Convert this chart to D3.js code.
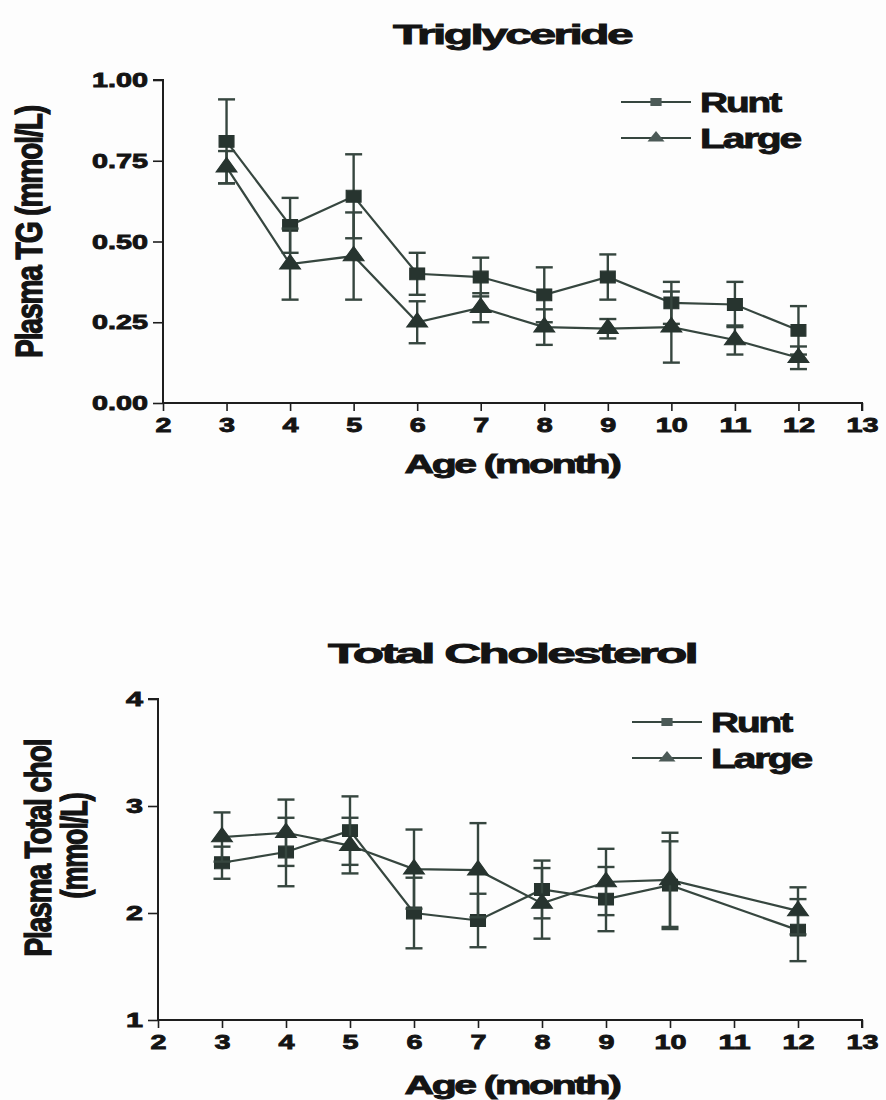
<!DOCTYPE html>
<html>
<head>
<meta charset="utf-8">
<script src="https://cdn.jsdelivr.net/npm/d3@7"></script>
<style>
  html, body { margin: 0; padding: 0; background: #fdfdfd; }
  svg { display: block; }
  text { font-family: "Liberation Sans", Arial, sans-serif; font-weight: bold; fill: #141414; stroke: #141414; stroke-width: 0.9; }
</style>
</head>
<body>
<svg id="chart" width="886" height="1100"></svg>
<script>
// Triglyceride panel: months, means and SEM per group
const tgMonths = [3, 4, 5, 6, 7, 8, 9, 10, 11, 12];
const tgRunt = [0.81, 0.55, 0.64, 0.40, 0.39, 0.335, 0.39, 0.31, 0.305, 0.225];
const tgRuntErr = [0.13, 0.085, 0.13, 0.065, 0.06, 0.085, 0.07, 0.065, 0.07, 0.075];
const tgLarge = [0.73, 0.43, 0.455, 0.25, 0.295, 0.235, 0.23, 0.235, 0.195, 0.14];
const tgLargeErr = [0.05, 0.11, 0.135, 0.065, 0.045, 0.055, 0.03, 0.11, 0.045, 0.035];
const tgTicks = [0, 0.25, 0.5, 0.75, 1.0];

// Total cholesterol panel (no sample at month 11)
const tcMonths = [3, 4, 5, 6, 7, 8, 9, 10, 12];
const tcRunt = [2.47, 2.57, 2.77, 2.00, 1.93, 2.22, 2.13, 2.26, 1.84];
const tcRuntErr = [0.15, 0.32, 0.32, 0.33, 0.25, 0.27, 0.30, 0.41, 0.29];
const tcLarge = [2.71, 2.75, 2.63, 2.41, 2.40, 2.09, 2.29, 2.31, 2.02];
const tcLargeErr = [0.23, 0.31, 0.26, 0.37, 0.44, 0.33, 0.31, 0.44, 0.22];
const tcTicks = [1, 2, 3, 4];

const xTicks = [2, 3, 4, 5, 6, 7, 8, 9, 10, 11, 12, 13];
const groupNames = ["Runt", "Large"];

const ink = "#36463f";
const markInk = "#27342f";
const svg = d3.select("#chart");

// Wide, heavy lettering: glyphs are packed tight, then stretched to a given run length
function wideText(g, o) {
  const t = g.append("text")
    .attr("text-anchor", o.anchor || "middle")
    .attr("font-size", o.size)
    .attr("letter-spacing", o.spacing == null ? -1.5 : o.spacing)
    .attr("textLength", o.length)
    .attr("lengthAdjust", "spacingAndGlyphs")
    .text(o.text);
  if (o.rotate) {
    // vertical label: thicken the glyphs across the line as well
    t.attr("transform", `translate(${o.x},${o.y}) scale(${o.sx || 1},1) rotate(-90)`);
  } else {
    t.attr("x", o.x).attr("y", o.y);
  }
  return t;
}

function panel(cfg) {
  const x = d3.scaleLinear().domain([2, 13]).range([cfg.left, cfg.right]);
  const y = d3.scaleLinear().domain(cfg.yDomain).range([cfg.bottom, cfg.top]);
  const g = svg.append("g");

  wideText(g, { x: cfg.titleX, y: cfg.titleY, size: 28, length: cfg.titleLen, text: cfg.title });

  // axes
  const yAxis = d3.axisLeft(y).tickValues(cfg.yTicks).tickSize(10).tickPadding(5)
    .tickFormat(cfg.yFormat);
  const ya = g.append("g").attr("transform", `translate(${cfg.left},0)`).call(yAxis);
  const xAxis = d3.axisBottom(x).tickValues(xTicks).tickSize(8).tickPadding(6)
    .tickFormat(d3.format("d"));
  const xa = g.append("g").attr("transform", `translate(0,${cfg.bottom})`).call(xAxis);
  [ya, xa].forEach(a => {
    a.select(".domain").attr("stroke", "#1e1e1e").attr("stroke-width", 2);
    a.selectAll(".tick line").attr("stroke", "#1e1e1e").attr("stroke-width", 1.6);
    a.selectAll(".tick text").attr("font-size", 21)
      .attr("font-family", "Liberation Sans, Arial, sans-serif").attr("font-weight", "bold")
      .attr("fill", "#181818")
      .attr("textLength", function () { return this.textContent.length * cfg.tickCharW; })
      .attr("lengthAdjust", "spacingAndGlyphs");
  });
  ya.selectAll(".tick text").attr("textLength", function () {
    return this.textContent.length === 1 ? 17 : 56;
  });
  xa.select(".domain").attr("d", `M${cfg.left},0H${cfg.right}V8`);
  ya.select(".domain").attr("d", `M-10,${cfg.top}H0V${cfg.bottom}`);

  // axis titles
  wideText(g, { x: 512, y: cfg.xLabelY, size: 26, length: 215, text: "Age (month)" });
  cfg.yLabel.forEach((line, i) => {
    wideText(g, { x: cfg.yLabelX[i], y: cfg.yLabelY[i], size: 25, length: cfg.yLabelLen[i],
      text: line, rotate: true, sx: 1.45, spacing: -1 });
  });

  const series = [
    { name: groupNames[0], vals: cfg.runt, err: cfg.runtErr, shape: d3.symbolSquare, len: 80 },
    { name: groupNames[1], vals: cfg.large, err: cfg.largeErr, shape: d3.symbolTriangle, len: 100 }
  ];

  const line = d3.line().x(d => x(d.m)).y(d => y(d.v));
  series.forEach(s => {
    const pts = cfg.months.map((m, i) => ({ m, v: s.vals[i], e: s.err[i] }));
    // SEM error bars with caps
    const eb = g.append("g").attr("stroke", ink).attr("stroke-width", 2.4);
    pts.forEach(p => {
      eb.append("line").attr("x1", x(p.m)).attr("x2", x(p.m))
        .attr("y1", y(p.v - p.e)).attr("y2", y(p.v + p.e));
      [p.v - p.e, p.v + p.e].forEach(v => {
        eb.append("line").attr("x1", x(p.m) - 8.5).attr("x2", x(p.m) + 8.5)
          .attr("y1", y(v)).attr("y2", y(v));
      });
    });
    g.append("path").datum(pts).attr("d", line)
      .attr("fill", "none").attr("stroke", ink).attr("stroke-width", 2.2);
    g.append("g").selectAll("path").data(pts).join("path")
      .attr("transform", p => `translate(${x(p.m)},${y(p.v)}) scale(1.25,1)`)
      .attr("d", d3.symbol().type(s.shape).size(s.shape === d3.symbolSquare ? 140 : 120))
      .attr("fill", markInk).attr("stroke", markInk).attr("stroke-width", 1);
  });

  // legend
  series.forEach((s, i) => {
    const ly = cfg.legendY + i * cfg.legendGap;
    const lx = cfg.legendX;
    g.append("line").attr("x1", lx).attr("x2", lx + 70).attr("y1", ly).attr("y2", ly)
      .attr("stroke", ink).attr("stroke-width", 2.2);
    g.append("path").attr("transform", `translate(${lx + 35},${ly}) scale(1.4,1)`)
      .attr("d", d3.symbol().type(s.shape).size(64)).attr("fill", "#4c5a57");
    wideText(g, { x: lx + 79, y: ly + 10, size: 28, length: s.len, text: s.name, anchor: "start" });
  });
}

panel({
  title: "Triglyceride", titleX: 512, titleY: 44, titleLen: 238,
  left: 163, right: 862, top: 80, bottom: 403,
  yDomain: [0, 1], yTicks: tgTicks, yFormat: d3.format(".2f"),
  months: tgMonths, runt: tgRunt, runtErr: tgRuntErr, large: tgLarge, largeErr: tgLargeErr,
  tickCharW: 16,
  xLabelY: 473,
  yLabel: ["Plasma TG (mmol/L)"], yLabelX: [42], yLabelY: [232], yLabelLen: [252],
  legendX: 621, legendY: 102, legendGap: 36
});

panel({
  title: "Total Cholesterol", titleX: 512, titleY: 663, titleLen: 368,
  left: 158, right: 862, top: 699, bottom: 1020,
  yDomain: [1, 4], yTicks: tcTicks, yFormat: d3.format("d"),
  months: tcMonths, runt: tcRunt, runtErr: tcRuntErr, large: tcLarge, largeErr: tcLargeErr,
  tickCharW: 16,
  xLabelY: 1094,
  yLabel: ["Plasma Total chol", "(mmol/L)"], yLabelX: [51, 87], yLabelY: [848, 846],
  yLabelLen: [217, 105],
  legendX: 632, legendY: 722, legendGap: 36
});
</script>
</body>
</html>
